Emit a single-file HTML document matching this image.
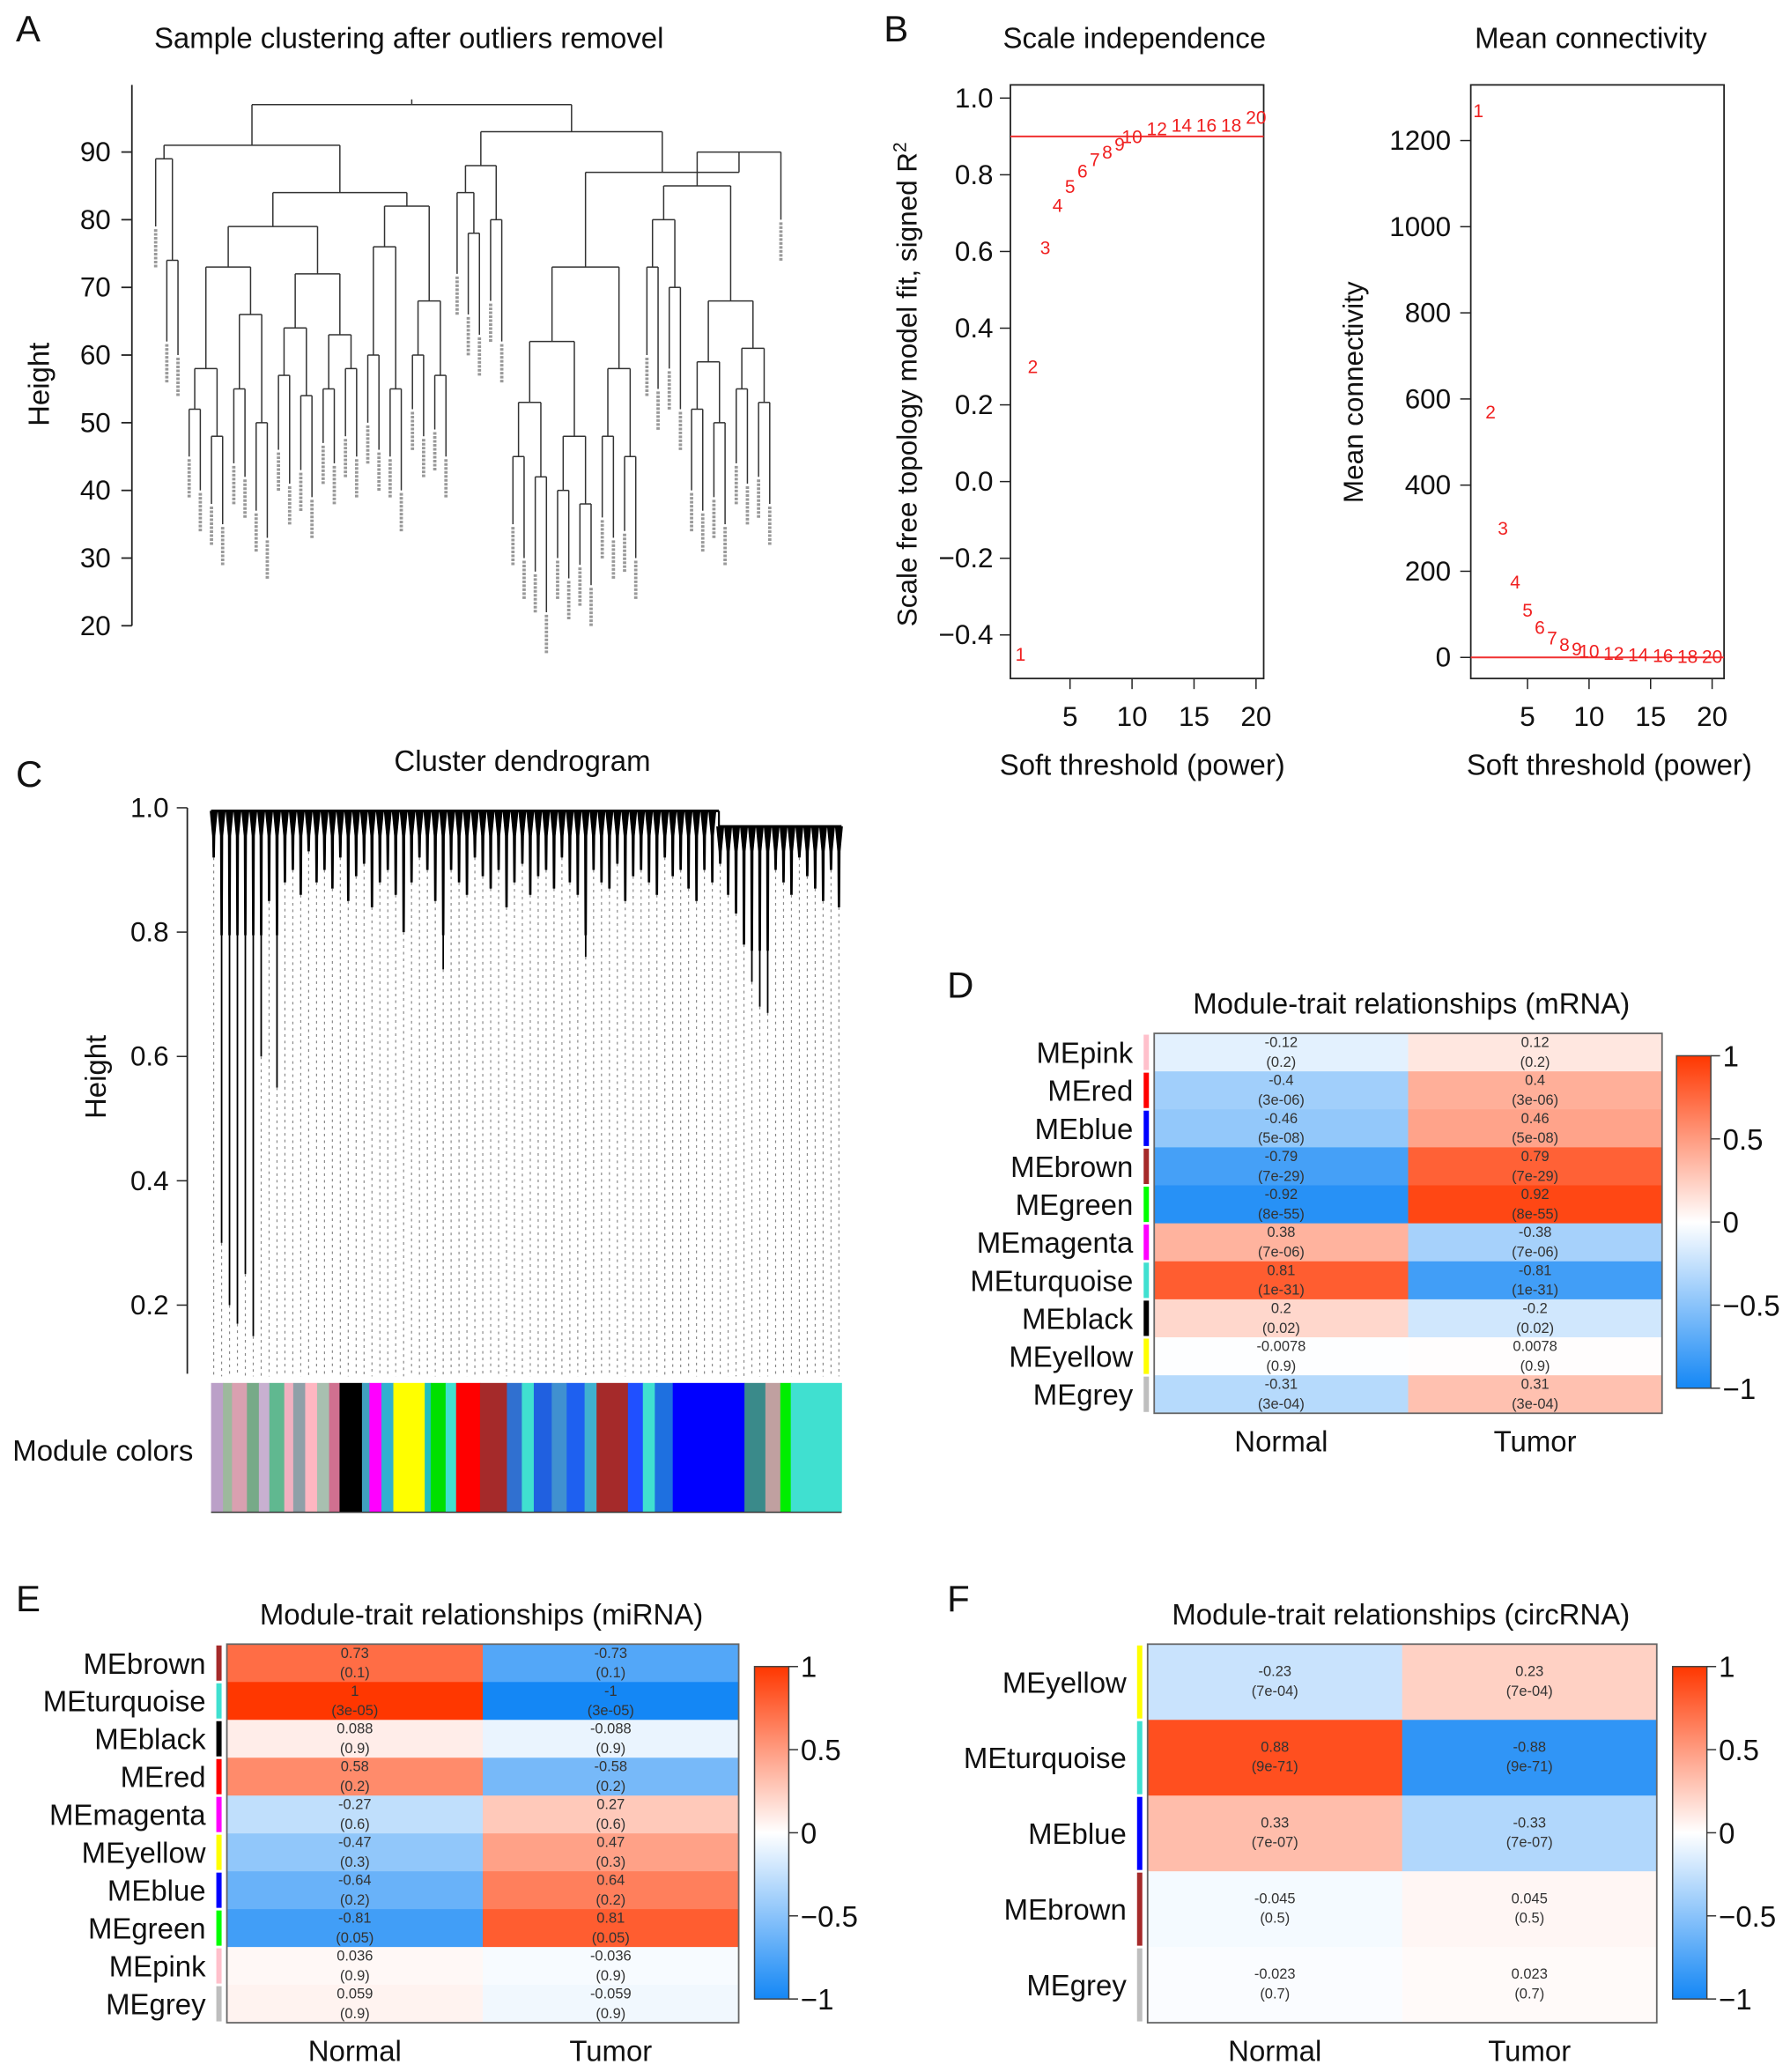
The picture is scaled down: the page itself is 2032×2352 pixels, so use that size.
<!DOCTYPE html>
<html><head><meta charset="utf-8">
<style>
html,body{margin:0;padding:0;background:#fff;}
svg{display:block;font-family:"Liberation Sans",Arial,sans-serif;}
</style></head>
<body>
<svg id="fig" width="2032" height="2352" viewBox="0 0 1357 1568" xmlns="http://www.w3.org/2000/svg">
<rect width="1357" height="1568" fill="#fff"/>
<g id="gA"></g>
<g id="gB1"></g>
<g id="gB2"></g>
<g id="gC"></g>
<g id="gD"></g>
<g id="gE"></g>
<g id="gF"></g>
</svg>
<script>
// ---------- DATA ----------
const sampleTree = [97,
  [91,[89,79,[74,62,60]],
      [84,[79,[73,[58,[52,45,40],[48,38,35]],[66,[55,44,42],[50,37,33]]],
               [72,[64,[57,46,41],[54,43,39]],[63,[55,47,44],[58,48,45]]]],
          [82,[76,[60,50,46],[55,45,40]],[68,[60,52,48],[57,49,45]]]]],
  [93,[88,[84,72,[78,66,63]],[80,68,62]],
      [87,[73,[62,[53,[45,35,30],[42,28,22]],[48,[40,30,27],[38,29,26]]],[58,[48,36,33],[45,34,30]]],
          [90,[85,[80,[73,60,55],[70,58,52]],[68,[59,[52,40,37],[50,39,35]],[61,[55,44,41],[53,42,38]]]],80]]]];
const aTicks = [20,30,40,50,60,70,80,90];

const powers = [1,2,3,4,5,6,7,8,9,10,12,14,16,18,20];
const fitR2 = [-0.45,0.30,0.61,0.72,0.77,0.81,0.84,0.86,0.88,0.90,0.92,0.93,0.93,0.93,0.95];
const meanK = [1270,570,300,175,110,70,45,30,20,15,10,7,5,3,2];
const b1Ticks = [-0.4,-0.2,0.0,0.2,0.4,0.6,0.8,1.0];
const b2Ticks = [0,200,400,600,800,1000,1200];
const bxTicks = [5,10,15,20];

const cLeafMin = [0.92,0.3,0.2,0.17,0.25,0.15,0.6,0.85,0.55,0.88,0.9,0.86,0.93,0.88,0.9,0.87,0.92,0.85,0.89,0.91,0.84,0.88,0.9,0.86,0.8,0.88,0.92,0.9,0.85,0.74,0.9,0.88,0.86,0.92,0.89,0.87,0.9,0.84,0.88,0.91,0.86,0.89,0.9,0.87,0.92,0.88,0.86,0.76,0.9,0.88,0.87,0.91,0.85,0.89,0.9,0.88,0.86,0.92,0.89,0.9,0.87,0.85,0.9,0.88,0.91,0.86,0.83,0.78,0.72,0.68,0.67,0.9,0.88,0.86,0.92,0.89,0.87,0.85,0.9,0.84];
const cTicks = [0.2,0.4,0.6,0.8,1.0];
const modColors = ['#bba0c8','#9db99d','#d9a0b0','#77aa88','#c8b0d0','#60b890','#f0b0c0','#8fa0a8','#ffb6c1','#a8c0b0','#d07090','#000000','#40a0c0','#ff00ff','#30b0d0','#ffff00','#20c0c0','#00e000','#40e0d0','#ff0000','#a52a2a','#3070d0','#40e0d0','#2060e0','#4090d0','#1e60f0','#40b0d0','#a52a2a','#2050ff','#40e0d0','#1e70e0','#0000ff','#3a8a8a','#c0a0a0','#00ee00','#40e0d0'];
const modWidths = [8,6,10,8,7,10,6,8,8,8,7,15,5,8,8,21,4,10,7,16,18,10,8,12,10,12,8,21,10,8,12,48,14,10,7,34];

const dRows = ['MEpink','MEred','MEblue','MEbrown','MEgreen','MEmagenta','MEturquoise','MEblack','MEyellow','MEgrey'];
const dSide = ['#ffc0cb','#ff0000','#0000ff','#a52a2a','#00ff00','#ff00ff','#40e0d0','#000000','#ffff00','#bebebe'];
const dNormal = [-0.12,-0.4,-0.46,-0.79,-0.92,0.38,0.81,0.2,-0.0078,-0.31];
const dTumor = [0.12,0.4,0.46,0.79,0.92,-0.38,-0.81,-0.2,0.0078,0.31];
const dP = ['0.2','3e-06','5e-08','7e-29','8e-55','7e-06','1e-31','0.02','0.9','3e-04'];

const eRows = ['MEbrown','MEturquoise','MEblack','MEred','MEmagenta','MEyellow','MEblue','MEgreen','MEpink','MEgrey'];
const eSide = ['#a52a2a','#40e0d0','#000000','#ff0000','#ff00ff','#ffff00','#0000ff','#00ff00','#ffc0cb','#bebebe'];
const eNormal = [0.73,1,0.088,0.58,-0.27,-0.47,-0.64,-0.81,0.036,0.059];
const eTumor = [-0.73,-1,-0.088,-0.58,0.27,0.47,0.64,0.81,-0.036,-0.059];
const eP = ['0.1','3e-05','0.9','0.2','0.6','0.3','0.2','0.05','0.9','0.9'];

const fRows = ['MEyellow','MEturquoise','MEblue','MEbrown','MEgrey'];
const fSide = ['#ffff00','#40e0d0','#0000ff','#a52a2a','#bebebe'];
const fNormal = [-0.23,0.88,0.33,-0.045,-0.023];
const fTumor = [0.23,-0.88,-0.33,0.045,0.023];
const fP = ['7e-04','9e-71','7e-07','0.5','0.7'];
const cbTicks = [1,0.5,0,-0.5,-1];

// ---------- HELPERS ----------
const NS='http://www.w3.org/2000/svg';
function mk(parent,tag,attrs,text){const e=document.createElementNS(NS,tag);for(const k in attrs)e.setAttribute(k,attrs[k]);if(text!==undefined)e.textContent=text;parent.appendChild(e);return e;}
function fmt(v){return String(v).replace('-','\u2212');}
function txt(g,x,y,s,size,anchor,name,extra){const e=mk(g,'text',Object.assign({x:x,y:y,'font-size':size,'text-anchor':anchor||'start',fill:'#111'},extra||{}),s);


return e;}
function corColor(v){v=Math.max(-1,Math.min(1,v));
 if(v>=0){return `rgb(255,${Math.round(255-200*v)},${Math.round(255-255*v)})`;}
 const a=-v;return `rgb(${Math.round(255-235*a)},${Math.round(255-120*a)},${Math.round(255-10*a)})`;}

const fig=document.getElementById('fig');
[['A',12,30],['B',670,30],['C',12,595],['D',718,755],['E',12,1220],['F',718,1220]].forEach(p=>{
 txt(fig,p[1],p[2],p[0],28,'start','panel-letter-'+p[0].toLowerCase());});

// ---------- PANEL A ----------
(function(){
 const g=document.getElementById('gA');
 const yA=v=>473-(v-20)*5.13;
 txt(g,310,35,'Sample clustering after outliers removel',22,'middle','panel-a-title');
 mk(g,'line',{x1:100,y1:63,x2:100,y2:473,stroke:'#222','stroke-width':1.2});
 aTicks.forEach(t=>{mk(g,'line',{x1:92,y1:yA(t),x2:100,y2:yA(t),stroke:'#222','stroke-width':1.2});
  txt(g,84,yA(t)+7,String(t),21,'end','a-y-tick');});
 txt(g,37,290,'Height',22,'middle','a-y-axis-title',{transform:'rotate(-90 37 290)'});
 function count(n){return typeof n==='number'?1:count(n[1])+count(n[2]);}
 const N=count(sampleTree);const x0=118,x1=592;const dx=(x1-x0)/(N-1);let idx=0;
 function draw(n){
  if(typeof n==='number'){const x=x0+dx*(idx++);return {x:x,h:n,leaf:true};}
  const l=draw(n[1]),r=draw(n[2]);const y=yA(n[0]);
  [l,r].forEach(c=>{const ye=yA(c.h);mk(g,'line',{x1:c.x,y1:y,x2:c.x,y2:ye,stroke:'#333','stroke-width':1});
   if(c.leaf){const s=mk(g,'line',{x1:c.x,y1:ye+2,x2:c.x,y2:ye+32,stroke:'#999','stroke-width':2.5,'stroke-dasharray':'2 1'});
    
    }});
  mk(g,'line',{x1:l.x,y1:y,x2:r.x,y2:y,stroke:'#333','stroke-width':1});
  return {x:(l.x+r.x)/2,h:n[0],leaf:false};}
 const root=draw(sampleTree);
 mk(g,'line',{x1:root.x,y1:yA(sampleTree[0]),x2:root.x,y2:yA(sampleTree[0])-4,stroke:'#333','stroke-width':1});
})();

// ---------- PANEL B ----------
(function(){
 const g=document.getElementById('gB1');
 const xS=p=>773.6+(p-1)*9.4, yS=v=>73+(1-v)*290.7;
 txt(g,860,35,'Scale independence',22,'middle','b1-title');
 mk(g,'rect',{x:766,y:63,width:192,height:450,fill:'none',stroke:'#222','stroke-width':1.2});
 b1Ticks.forEach(t=>{mk(g,'line',{x1:758,y1:yS(t),x2:766,y2:yS(t),stroke:'#222'});
  txt(g,753,yS(t)+7,fmt(t.toFixed(1)),21,'end','b1-y-tick');});
 bxTicks.forEach(t=>{mk(g,'line',{x1:xS(t),y1:513,x2:xS(t),y2:521,stroke:'#222'});
  txt(g,xS(t),549,String(t),21,'middle','b1-x-tick');});
 txt(g,866,586,'Soft threshold (power)',22,'middle','b1-x-axis-title');
 const ty=txt(g,695,290,'Scale free topology model fit, signed R',21,'middle','b1-y-axis-title',{transform:'rotate(-90 695 290)'});
 mk(ty,'tspan',{dy:-8,'font-size':14},'2');
 mk(g,'line',{x1:766,y1:yS(0.9),x2:958,y2:yS(0.9),stroke:'#f03030','stroke-width':1.3});
 powers.forEach((p,i)=>{txt(g,xS(p),yS(fitR2[i])+5,String(p),14,'middle','b1-point-'+p,{fill:'#f02020'});});

 const h=document.getElementById('gB2');
 const xK=p=>1120.7+(p-1)*9.33, yK=v=>497-v*0.3265;
 txt(h,1206,35,'Mean connectivity',22,'middle','b2-title');
 mk(h,'rect',{x:1115,y:63,width:192,height:450,fill:'none',stroke:'#222','stroke-width':1.2});
 b2Ticks.forEach(t=>{mk(h,'line',{x1:1107,y1:yK(t),x2:1115,y2:yK(t),stroke:'#222'});
  txt(h,1100,yK(t)+7,String(t),21,'end','b2-y-tick');});
 bxTicks.forEach(t=>{mk(h,'line',{x1:xK(t),y1:513,x2:xK(t),y2:521,stroke:'#222'});
  txt(h,xK(t),549,String(t),21,'middle','b2-x-tick');});
 txt(h,1220,586,'Soft threshold (power)',22,'middle','b2-x-axis-title');
 txt(h,1033,296,'Mean connectivity',21,'middle','b2-y-axis-title',{transform:'rotate(-90 1033 296)'});
 mk(h,'line',{x1:1115,y1:yK(0),x2:1307,y2:yK(0),stroke:'#f03030','stroke-width':1.3});
 powers.forEach((p,i)=>{txt(h,xK(p),yK(meanK[i])+5,String(p),14,'middle','b2-point-'+p,{fill:'#f02020'});});
})();

// ---------- PANEL C ----------
(function(){
 const g=document.getElementById('gC');
 const yC=v=>611+(1-v)*471.25;
 txt(g,396,583,'Cluster dendrogram',22,'middle','c-title');
 mk(g,'line',{x1:142,y1:611,x2:142,y2:1040,stroke:'#222','stroke-width':1.2});
 cTicks.forEach(t=>{mk(g,'line',{x1:134,y1:yC(t),x2:142,y2:yC(t),stroke:'#222'});
  txt(g,128,yC(t)+7,t.toFixed(1),21,'end','c-y-tick');});
 txt(g,80,815,'Height',22,'middle','c-y-axis-title',{transform:'rotate(-90 80 815)'});
 const n=cLeafMin.length,x0=162,x1=636,dx=(x1-x0)/(n-1);
 mk(g,'line',{x1:160,y1:yC(0.995),x2:545,y2:yC(0.995),stroke:'#000','stroke-width':2});
 mk(g,'line',{x1:545,y1:yC(0.97),x2:638,y2:yC(0.97),stroke:'#000','stroke-width':2});
 mk(g,'line',{x1:545,y1:yC(0.995),x2:545,y2:yC(0.97),stroke:'#000','stroke-width':1.5});
 cLeafMin.forEach((m,i)=>{const x=x0+i*dx;const top=x>545?0.97:0.995;
  const deep=Math.max(m,top-0.2);
  mk(g,'line',{x1:x,y1:yC(top),x2:x,y2:yC(m),stroke:'#000','stroke-width':1.2});
  mk(g,'path',{d:`M${x-dx/2} ${yC(top)} L${x+dx/2} ${yC(top)} L${x+1.2} ${yC(top-0.04)} L${x+0.9} ${yC(deep)} L${x-0.9} ${yC(deep)} L${x-1.2} ${yC(top-0.04)}Z`,fill:'#000'});
  const d=mk(g,'line',{x1:x,y1:yC(m),x2:x,y2:1042,stroke:'#888','stroke-width':0.8,'stroke-dasharray':'2 3'});
  
  });
 let xx=160;const tot=modWidths.reduce((a,b)=>a+b,0);const sc=478/tot;
 modWidths.forEach((w,i)=>{const r=mk(g,'rect',{x:xx,y:1047,width:w*sc+0.3,height:98,fill:modColors[i]});
  
  xx+=w*sc;});
 mk(g,'line',{x1:160,y1:1145,x2:638,y2:1145,stroke:'#333'});
 txt(g,78,1106,'Module colors',22,'middle','module-colors-label');
})();

// ---------- HEATMAPS ----------
function heatmap(gid,title,rows,side,nv,tv,pv,bx,by,bw,bh,cbx,cby,cbh,titleX){
 const g=document.getElementById(gid);
 txt(g,titleX,by-15,title,22,'middle',gid+'-title');
 const rh=bh/rows.length,cw=bw/2;
 rows.forEach((r,i)=>{const y=by+i*rh;
  [nv[i],tv[i]].forEach((v,j)=>{const c=mk(g,'rect',{x:bx+j*cw,y:y,width:cw+0.3,height:rh+0.3,fill:corColor(v)});
   
   
   const big=rh>40;
   txt(g,bx+j*cw+cw/2,y+(big?rh*0.42:rh*0.36),String(v),11,'middle','cell-value',{fill:'#333'});
   txt(g,bx+j*cw+cw/2,y+(big?rh*0.68:rh*0.88),'('+pv[i]+')',11,'middle','cell-pvalue',{fill:'#333'});});
  mk(g,'rect',{x:bx-8,y:y+1,width:4,height:rh-2,fill:side[i]});
  txt(g,bx-16,y+rh/2+8,r,22,'end','row-label-'+r.toLowerCase());});
 mk(g,'rect',{x:bx,y:by,width:bw,height:bh,fill:'none',stroke:'#666','stroke-width':1.2});
 txt(g,bx+cw/2,by+bh+29,'Normal',22,'middle','x-label-normal');
 txt(g,bx+cw*1.5,by+bh+29,'Tumor',22,'middle','x-label-tumor');
 const grad=mk(g,'defs',{});const lg=mk(grad,'linearGradient',{id:gid+'grad',x1:0,y1:0,x2:0,y2:1});
 cbTicks.forEach((t,i)=>mk(lg,'stop',{offset:i/4,'stop-color':corColor(t)}));
 mk(g,'rect',{x:cbx,y:cby,width:26,height:cbh,fill:`url(#${gid}grad)`,stroke:'#444','stroke-width':1});
 cbTicks.forEach((t,i)=>{const y=cby+i*cbh/4;mk(g,'line',{x1:cbx+26,y1:y,x2:cbx+33,y2:y,stroke:'#333'});
  txt(g,cbx+35,y+8,fmt(t),22,'start','colorbar-tick');});
}
heatmap('gD','Module-trait relationships (mRNA)',dRows,dSide,dNormal,dTumor,dP,875,782,385,288,1271,799,252,1070);
heatmap('gE','Module-trait relationships (miRNA)',eRows,eSide,eNormal,eTumor,eP,172,1245,388,287,572,1262,252,365);
heatmap('gF','Module-trait relationships (circRNA)',fRows,fSide,fNormal,fTumor,fP,870,1245,386,287,1268,1262,252,1062);
</script>
</body></html>
